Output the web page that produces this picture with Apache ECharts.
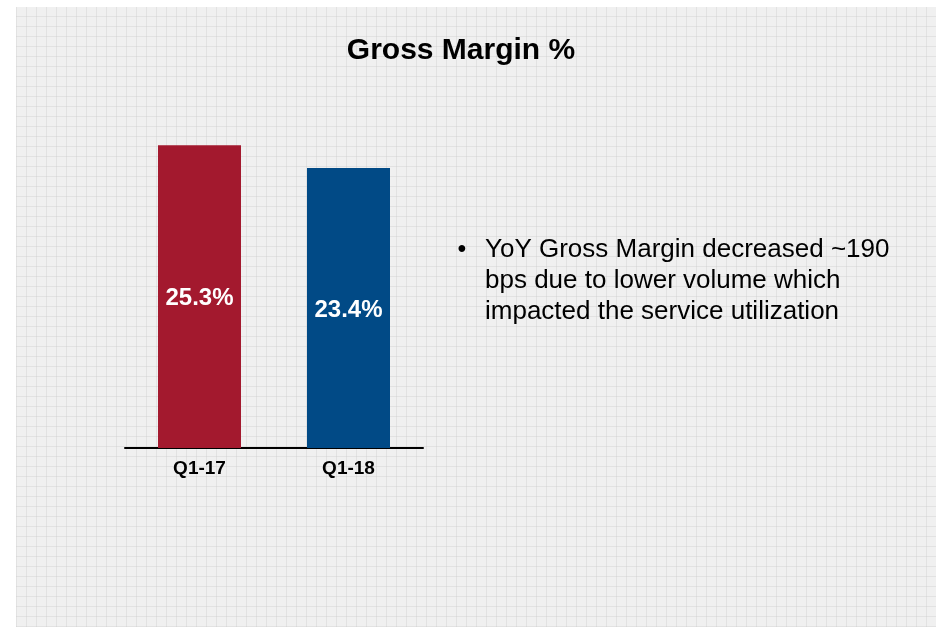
<!DOCTYPE html>
<html>
<head>
<meta charset="utf-8">
<script src="https://cdn.jsdelivr.net/npm/echarts@6/dist/echarts.min.js"></script>
<style>
  html, body { margin: 0; padding: 0; background: #ffffff; width: 936px; height: 627px; overflow: hidden; }
  #bg {
    position: absolute; left: 16px; top: 7px; right: 0; bottom: 0;
    background-color: #f0f0f0;
    background-image:
      repeating-linear-gradient(90deg, rgba(205,205,205,0.4) 0px, rgba(205,205,205,0.4) 1px, transparent 1px, transparent 10px),
      repeating-linear-gradient(0deg, rgba(205,205,205,0.4) 0px, rgba(205,205,205,0.4) 1px, transparent 1px, transparent 10px);
  }
  #chart { position: absolute; left: 0; top: 0; width: 936px; height: 627px; }
</style>
</head>
<body>
<div id="bg"></div>
<div id="chart"></div>
<script>
const titleText = "Gross Margin %";
const categories = ["Q1-17", "Q1-18"];
const values = [25.3, 23.4];
const barColors = ["#A3192E", "#014A86"];
const bulletLines = [
  "YoY Gross Margin decreased ~190",
  "bps due to lower volume which",
  "impacted the service utilization"
];

const FONT = "'Liberation Sans', Arial, Helvetica, sans-serif";
const chart = echarts.init(document.getElementById('chart'), null, { renderer: 'canvas' });

const graphics = [
  {
    type: 'text', x: 461, y: 51,
    style: { text: titleText, font: "bold 30px " + FONT, fill: '#000', textAlign: 'center', textVerticalAlign: 'middle' }
  },
  {
    type: 'text', x: 462, y: 250,
    style: { text: "\u2022", font: "25px " + FONT, fill: '#000', textAlign: 'center', textVerticalAlign: 'middle' }
  }
];
bulletLines.forEach((line, i) => {
  graphics.push({
    type: 'text', x: 485, y: 250 + i * 31,
    style: { text: line, font: "26px " + FONT, fill: '#000', textAlign: 'left', textVerticalAlign: 'middle' }
  });
});

chart.setOption({
  backgroundColor: 'transparent',
  animation: false,
  grid: { left: 125, right: 513, top: 89, bottom: 179 },
  xAxis: {
    type: 'category',
    data: categories,
    axisLine: { show: true, lineStyle: { color: '#000', width: 2 } },
    axisTick: { show: false },
    axisLabel: { color: '#000', fontWeight: 'bold', fontSize: 19, fontFamily: FONT, margin: 11 }
  },
  yAxis: {
    type: 'value', min: 0, max: 30, show: false,
    splitLine: { show: false }
  },
  series: [{
    type: 'bar',
    barWidth: 83,
    data: values.map((v, i) => ({ value: v, itemStyle: { color: barColors[i] } })),
    label: {
      show: true, position: 'inside', offset: [0, 2],
      formatter: p => p.value.toFixed(1) + '%',
      color: '#fff', fontWeight: 'bold', fontSize: 24, fontFamily: FONT
    }
  }],
  graphic: graphics
});
</script>
</body>
</html>
